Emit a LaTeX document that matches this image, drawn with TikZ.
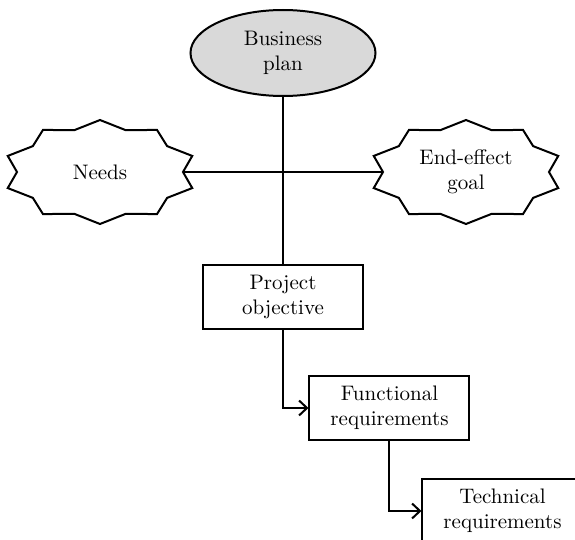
\documentclass[tikz,border=0pt]{standalone}
\usepackage{tikz}
\usetikzlibrary{shapes.geometric,arrows.meta,calc}

\newcommand{\drawburst}[1]{%
  \draw[burst line] ($(#1)+(18:48.5pt and 26pt)$)
    \foreach \a in {36,72,...,324} {
      -- ($(#1)+(\a:41.5pt and 22pt)$) -- ($(#1)+(\a+18:48.5pt and 26pt)$)}
    -- ($(#1)+(0:41.5pt and 22pt)$) -- cycle;}

\begin{document}
\begin{tikzpicture}[x=0.5pt,y=-0.5pt,line width=1pt,
    font=\fontsize{10.5}{12.5}\selectfont,
    oval/.style={ellipse,draw,fill=black!15,minimum width=92.5pt,minimum height=43pt,inner sep=0pt,align=center},
    box/.style={rectangle,draw,minimum width=80pt,minimum height=32pt,inner sep=0pt,align=center},
    burst label/.style={minimum width=83pt,inner sep=0pt,align=center},
    burst line/.style={draw,line join=miter},
    >={Straight Barb[length=4pt,width=7.5pt]}]
    \useasboundingbox (0,0) rectangle (575,540);
    \clip (0,0) rectangle (575,540);
    \node[oval] (plan)            at (283,53)    {Business\\plan};
    \node[burst label] (needs)    at (100,172)   {Needs};
    \node[burst label] (goal)     at (466,172)   {End-effect\\goal};
    \drawburst{needs}
    \drawburst{goal}
    \node[box] (objective)        at (283,297)   {Project\\objective};
    \node[box] (func)             at (389.5,408) {Functional\\requirements};
    \node[box] (tech)             at (502.5,511) {Technical\\requirements};
    \draw (plan.south) -- (objective.north);
    \draw (needs.east) -- (goal.west);
    \draw[->] (objective.south) |- (func.west);
    \draw[->] (func.south) |- (tech.west);
    % tech box runs off the page, as in the source
\end{tikzpicture}
\end{document}
